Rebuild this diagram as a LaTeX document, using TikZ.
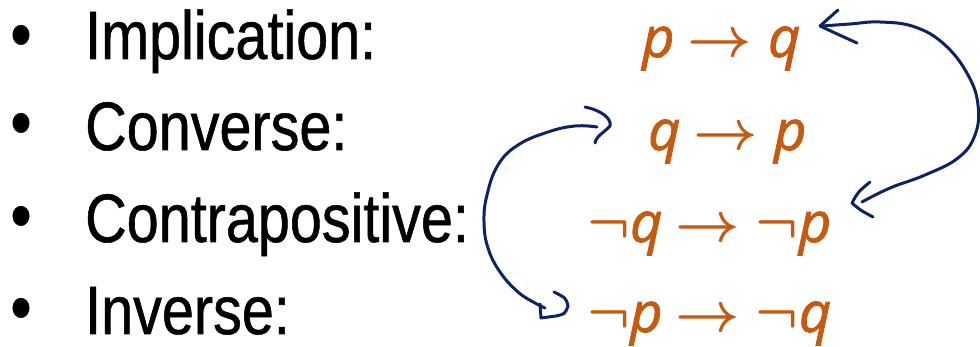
\RequirePackage{fix-cm}
\documentclass[tikz,border=0pt]{standalone}
\usepackage{fontspec}
\setmainfont{Liberation Sans}[FakeStretch=0.84,FakeBold=0.8]
\newfontfamily\mfont{Open Sans}[FakeBold=1.5]
\definecolor{orng}{RGB}{197,90,17}
\definecolor{ink}{RGB}{12,36,100}
\tikzset{
  lab/.style={anchor=base west, inner sep=0pt, font=\fontsize{68.5}{80}\selectfont},
  bul/.style={anchor=center, inner sep=0pt, font=\fontsize{72}{80}\selectfont},
  fm/.style={anchor=base west, inner sep=0pt, text=orng, font=\fontsize{56}{66}\selectfont\mfont\itshape\boldmath},
  pen/.style={draw=ink, line width=3pt, line cap=round, line join=round},
}
\newcommand{\imp}{\hspace{0.24em}$\rightarrow$\hspace{0.28em}}
\newcommand{\negsym}{$\neg$}
\begin{document}
\begin{tikzpicture}[x=1pt,y=-1pt]
\useasboundingbox (0,0) rectangle (980,347);
% bullets
\node[bul] (b1) at (21,42) {\textbullet};
\node[bul] (b2) at (21,130) {\textbullet};
\node[bul] (b3) at (21,223) {\textbullet};
\node[bul] (b4) at (21,315) {\textbullet};
% labels
\node[lab] (l1) at (85,59) {Implication:};
\node[lab] (l2) at (85,150) {Converse:};
\node[lab] (l3) at (85,242) {Contrapositive:};
\node[lab] (l4) at (85,334) {Inverse:};
% formulas
\node[fm] (f1) at (642,57) {p\imp q};
\node[fm] (f2) at (648,150) {q\imp p};
\node[fm] (f3) at (587,242) {\negsym q\imp\negsym p};
\node[fm] (f4) at (587,332) {\negsym p\imp\negsym q};
% right curve: implication <-> contrapositive
\draw[pen] plot[smooth, tension=0.7] coordinates {(822,26) (850,24) (880,22) (915,27) (945,45) (968,75) (978,105) (975,135) (958,158) (925,175) (890,188) (862,202)};
\draw[pen] (838,10) -- (820,26) .. controls (835,33) .. (857,43);
\draw[pen] (870,182) .. controls (858,192) .. (852,203) .. controls (860,210) .. (873,217);
% left curve: converse <-> inverse
\draw[pen] plot[smooth, tension=0.7] coordinates {(597,127) (575,126) (548,132) (518,145) (498,165) (487,195) (484,222) (488,248) (500,272) (518,292) (535,303) (545,308)};
\draw[pen] (585,107) .. controls (600,110) and (612,118) .. (610,126) .. controls (605,132) and (596,136) .. (595,143);
\draw[pen] (554,292) .. controls (566,298) .. (568,306) .. controls (565,314) .. (556,316) -- (541,318) -- (540,304);
\end{tikzpicture}
\end{document}
